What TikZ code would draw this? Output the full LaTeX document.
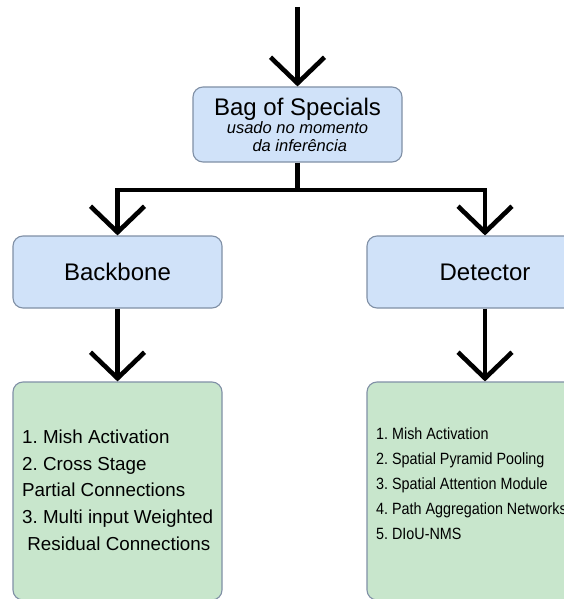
\documentclass[tikz,border=0pt]{standalone}
\usepackage{fontspec}
\setmainfont{Liberation Sans}
\newfontfamily\narrowfont[FakeStretch=0.88]{Liberation Sans}
\usetikzlibrary{arrows.meta}
\frenchspacing
\definecolor{boxblue}{HTML}{D0E2F9}
\definecolor{boxgreen}{HTML}{C8E6CC}
\definecolor{boxedge}{HTML}{8090A6}
\tikzset{
  stage/.style={draw=boxedge, line width=1.1pt, rounded corners=10pt, fill=boxblue,
    inner sep=0pt, align=center},
  listbox/.style={draw=boxedge, line width=1.1pt, rounded corners=10pt, fill=boxgreen,
    inner sep=0pt},
  flow/.style={line width=4.6pt, black},
  flowarrow/.style={flow, -{Straight Barb[length=26pt,width=54pt]}},
}
\begin{document}
\begin{tikzpicture}[x=1pt, y=-1pt]
\useasboundingbox (0,0) rectangle (564,599);
\clip (0,0) rectangle (564,599);
\fill[white] (0,0) rectangle (564,599);

% boxes
\node[stage, minimum width=209pt, minimum height=75pt,
      font=\fontsize{16.5}{17.5}\selectfont\itshape] (bag) at (297.5,124.5)
  {{\fontsize{24}{17.5}\selectfont\upshape Bag of Specials}\\[1pt]
   usado no momento\\ \ da inferência};
\node[stage, minimum width=209pt, minimum height=72pt, font=\fontsize{24}{28}\selectfont]
  (backbone) at (117.5,272) {Backbone};
\node[stage, minimum width=236pt, minimum height=72pt, font=\fontsize{24}{28}\selectfont]
  (detector) at (485,272) {Detector};
\node[listbox, minimum width=209pt, minimum height=218pt] (bblist) at (117.5,491) {};
\node[listbox, minimum width=236pt, minimum height=218pt] (detlist) at (485,491) {};

% list texts
\node[anchor=west, inner sep=0pt, align=left, font=\fontsize{18.8}{26.7}\selectfont]
  (bbtext) at (22,490)
  {1. Mish Activation\\2. Cross Stage\\Partial Connections\\3. Multi input Weighted\\\ Residual Connections};
\node[anchor=west, inner sep=0pt, align=left, font=\narrowfont\fontsize{16.3}{25}\selectfont]
  (dettext) at (376,483.3)
  {1. Mish Activation\\2. Spatial Pyramid Pooling\\3. Spatial Attention Module\\4. Path Aggregation Networks\\5. DIoU-NMS};

% connectors
\coordinate (src) at (297.5,7);
\coordinate (split) at (297.5,190);
\coordinate (lbranch) at (117.5,190);
\coordinate (rbranch) at (485,190);

\draw[flowarrow] (src) -- (bag.north);
\draw[flow] (bag.south) -- (split);
\draw[flow, line cap=rect] (lbranch) -- (rbranch);
\draw[flowarrow] (lbranch) -- (backbone.north);
\draw[flowarrow] (rbranch) -- (detector.north);
\draw[flowarrow] (backbone.south) -- (bblist.north);
\draw[flowarrow] (detector.south) -- (detlist.north);
\end{tikzpicture}
\end{document}
